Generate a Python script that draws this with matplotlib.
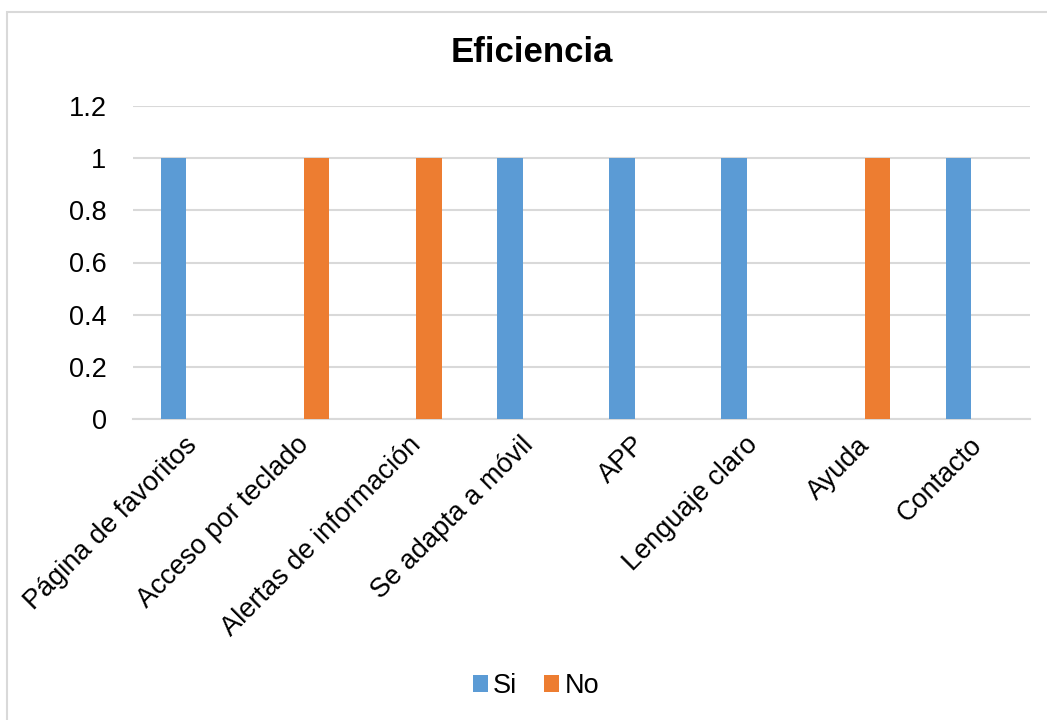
import matplotlib
matplotlib.use("Agg")
import matplotlib.pyplot as plt
import numpy as np
from matplotlib.patches import Rectangle
from matplotlib.transforms import ScaledTranslation

plt.rcParams['font.family'] = ['Liberation Sans', 'DejaVu Sans']

categories = ["Página de favoritos", "Acceso por teclado", "Alertas de información",
              "Se adapta a móvil", "APP", "Lenguaje claro", "Ayuda", "Contacto"]
si_values = [1, 0, 0, 1, 1, 1, 0, 1]
no_values = [0, 1, 1, 0, 0, 0, 1, 0]
y_ticks = [0, 0.2, 0.4, 0.6, 0.8, 1, 1.2]
y_tick_labels = ["0", "0.2", "0.4", "0.6", "0.8", "1", "1.2"]

W, H = 1047, 720
fig = plt.figure(figsize=(W / 100, H / 100), dpi=100)
fig.patch.set_facecolor("white")

# chart frame
fig.patches.append(Rectangle((7 / W, -0.05), 1.1, 1 - 11.5 / H + 0.05,
                             transform=fig.transFigure, fill=False,
                             edgecolor="#D9D9D9", linewidth=1.5, zorder=0))

ax = fig.add_axes([133 / W, 1 - 419 / H, (1030 - 133) / W, (419 - 106) / H])
x = np.arange(len(categories))
bw = 0.226
off = 0.139
ax.bar(x - off, si_values, bw, color="#5B9BD5", label="Si", zorder=3)
ax.bar(x + off, no_values, bw, color="#ED7D31", label="No", zorder=3)

ax.set_xlim(-0.5, len(categories) - 0.5)
ax.set_ylim(0, 1.2)
ax.set_yticks(y_ticks)
ax.set_yticklabels(y_tick_labels, fontsize=19.5)
ax.yaxis.grid(True, color="#D9D9D9", linewidth=1.5, zorder=0)
ax.set_axisbelow(True)
for s in ["top", "right", "left"]:
    ax.spines[s].set_visible(False)
ax.spines["bottom"].set_color("#D9D9D9")
ax.spines["bottom"].set_linewidth(1.5)
ax.tick_params(axis="y", length=0, pad=19)
ax.tick_params(axis="x", length=0, pad=16)
ax.set_xticks(x)
ax.set_xticklabels(categories, fontsize=19.5, rotation=45, ha="right",
                   rotation_mode="anchor", va="center")
shift = ScaledTranslation(4 / 100, 0, fig.dpi_scale_trans)
for lbl in ax.get_xticklabels():
    lbl.set_transform(lbl.get_transform() + shift)

fig.text(532 / W, 1 - 52 / H, "Eficiencia", fontsize=25, fontweight="bold",
         ha="center", va="center")

fig.legend(loc="center", bbox_to_anchor=(536 / W, 1 - 686 / H), ncol=2,
           frameon=False, fontsize=19.5, handlelength=0.55, handleheight=0.55,
           handletextpad=0.2, columnspacing=1.0)

fig.savefig("out.png", dpi=100, facecolor="white")
